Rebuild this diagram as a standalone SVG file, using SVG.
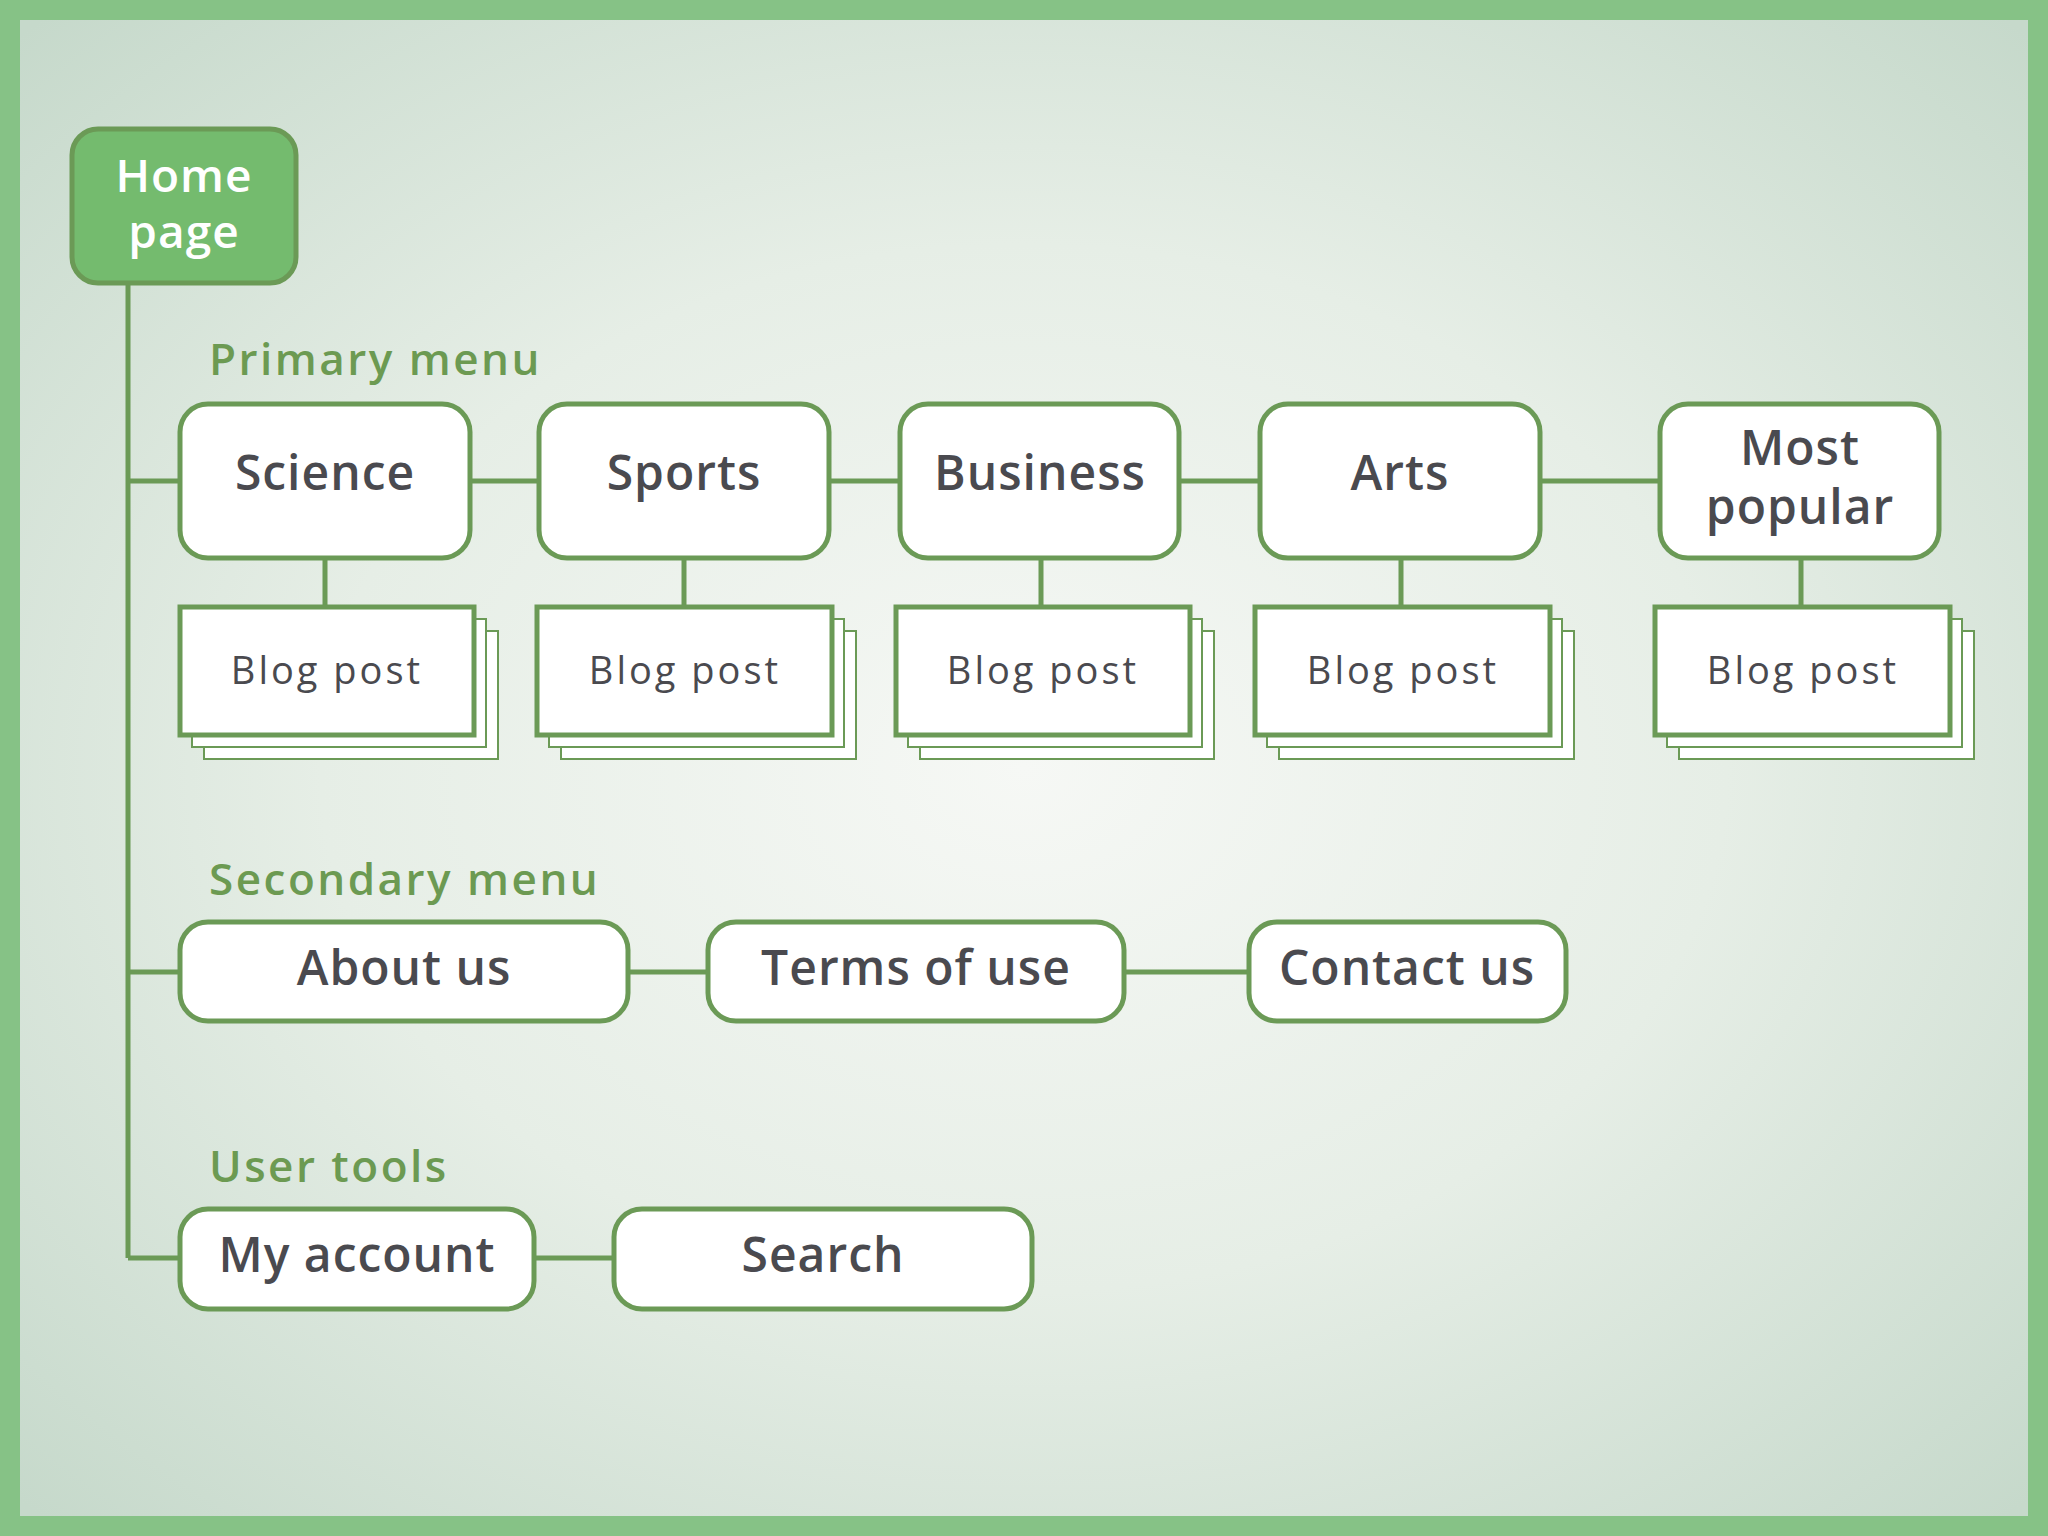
<svg xmlns="http://www.w3.org/2000/svg" width="2048" height="1536" viewBox="0 0 2048 1536">
<defs>
<radialGradient id="bg" cx="50%" cy="50%" r="70%">
<stop offset="0" stop-color="#f6f8f5"/><stop offset="0.5" stop-color="#e6eee6"/><stop offset="1" stop-color="#c6d9cb"/>
</radialGradient>
<style>
.n{fill:#fff;stroke:#6b9a56;stroke-width:5}
.s{fill:#fff;stroke:#6b9a56;stroke-width:2}
.c{stroke:#6b9a56;stroke-width:5;fill:none}
.t{font-family:"Open Sans","Lato",sans-serif;font-weight:600;fill:#4a4a4f;text-anchor:middle;letter-spacing:1px}
.b{font-size:48px}.p{font-size:38px;font-weight:500;letter-spacing:3px}
.h{font-family:"Open Sans","Lato",sans-serif;font-weight:600;font-size:44px;fill:#6c9a52;letter-spacing:2.5px}
</style>
</defs>
<rect width="2048" height="1536" fill="#86c286"/>
<rect x="20" y="20" width="2008" height="1496" fill="url(#bg)"/>
<g id="connectors" class="c">
<path d="M128 283V1258M128 481H180M128 972H180M128 1258H180"/>
<path d="M470 481H539M829 481H900M1179 481H1260M1540 481H1660"/>
<path d="M325 558V607M684 558V607M1041 558V607M1401 558V607M1801 558V607"/>
<path d="M628 972H708M1124 972H1249M534 1258H614"/>
</g>
<g id="home"><rect x="72" y="129" width="224" height="154" rx="26" fill="#74bb6e" stroke="#6b9a56" stroke-width="5"/>
<text class="t b" x="184" y="192" style="fill:#fff;font-size:46px">Home</text><text class="t b" x="184" y="248" style="fill:#fff;font-size:46px">page</text></g>
<text class="h" x="209" y="375">Primary menu</text>
<text class="h" x="209" y="895">Secondary menu</text>
<text class="h" x="209" y="1182">User tools</text>
<g id="science"><rect class="n" x="180" y="404" width="290" height="154" rx="28"/><text class="t b" x="325" y="490">Science</text></g>
<g id="sports"><rect class="n" x="539" y="404" width="290" height="154" rx="28"/><text class="t b" x="684" y="490">Sports</text></g>
<g id="business"><rect class="n" x="900" y="404" width="279" height="154" rx="28"/><text class="t b" x="1040" y="490">Business</text></g>
<g id="arts"><rect class="n" x="1260" y="404" width="280" height="154" rx="28"/><text class="t b" x="1400" y="490">Arts</text></g>
<g id="popular"><rect class="n" x="1660" y="404" width="279" height="154" rx="28"/><text class="t b" x="1800" y="465">Most</text><text class="t b" x="1800" y="524">popular</text></g>
<g id="blog1"><rect class="s" x="204" y="631" width="294" height="128"/><rect class="s" x="192" y="619" width="294" height="128"/><rect class="n" x="180" y="607" width="294" height="128"/><text class="t p" x="327" y="684">Blog post</text></g>
<g id="blog2"><rect class="s" x="561" y="631" width="295" height="128"/><rect class="s" x="549" y="619" width="295" height="128"/><rect class="n" x="537" y="607" width="295" height="128"/><text class="t p" x="685" y="684">Blog post</text></g>
<g id="blog3"><rect class="s" x="920" y="631" width="294" height="128"/><rect class="s" x="908" y="619" width="294" height="128"/><rect class="n" x="896" y="607" width="294" height="128"/><text class="t p" x="1043" y="684">Blog post</text></g>
<g id="blog4"><rect class="s" x="1279" y="631" width="295" height="128"/><rect class="s" x="1267" y="619" width="295" height="128"/><rect class="n" x="1255" y="607" width="295" height="128"/><text class="t p" x="1403" y="684">Blog post</text></g>
<g id="blog5"><rect class="s" x="1679" y="631" width="295" height="128"/><rect class="s" x="1667" y="619" width="295" height="128"/><rect class="n" x="1655" y="607" width="295" height="128"/><text class="t p" x="1803" y="684">Blog post</text></g>
<g id="about"><rect class="n" x="180" y="922" width="448" height="99" rx="28"/><text class="t b" x="404" y="985">About us</text></g>
<g id="terms"><rect class="n" x="708" y="922" width="416" height="99" rx="28"/><text class="t b" x="916" y="985">Terms of use</text></g>
<g id="contact"><rect class="n" x="1249" y="922" width="317" height="99" rx="28"/><text class="t b" x="1407" y="985">Contact us</text></g>
<g id="account"><rect class="n" x="180" y="1209" width="354" height="100" rx="28"/><text class="t b" x="357" y="1272">My account</text></g>
<g id="search"><rect class="n" x="614" y="1209" width="418" height="100" rx="28"/><text class="t b" x="823" y="1272">Search</text></g>
</svg>
